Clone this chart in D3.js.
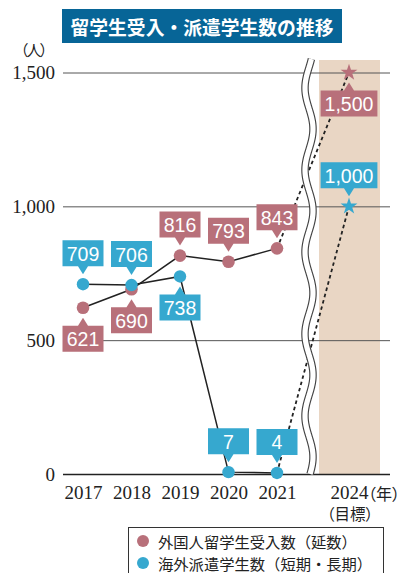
<!DOCTYPE html>
<html><head><meta charset="utf-8">
<script src="https://cdn.jsdelivr.net/npm/d3@7"></script>
<style>body{margin:0;background:#fff} svg{display:block}</style>
</head><body><svg id="c" width="407" height="573"></svg>
<script>
// ---- data ----
const years = [2017, 2018, 2019, 2020, 2021];
const targetYear = 2024;
const intlStudents = [621, 690, 816, 793, 843];   // 外国人留学生受入数（延数）
const intlTarget = 1500;
const abroadStudents = [709, 706, 738, 7, 4];     // 海外派遣学生数（短期・長期）
const abroadTarget = 1000;
const yTicks = [0, 500, 1000, 1500];
const titleText = "留学生受入・派遣学生数の推移";
const seriesNames = ["外国人留学生受入数（延数）", "海外派遣学生数（短期・長期）"];

// callout placement (layout)
const intlSide = ["below", "below", "above", "above", "above"];
const abroadSide = ["above", "above", "below", "above", "above"];

const PINK = "#b8707a", BLUE = "#36a8cf", BAND = "#e9d6c4";
const CJK = "'Noto Sans CJK JP', sans-serif";
const SERIF = "'Liberation Serif', 'DejaVu Serif', serif";
const SANS = "'Liberation Sans', Arial, sans-serif";

const svg = d3.select("#c");
const x = d3.scaleLinear().domain([2017, 2021, 2024]).range([83, 277, 349]);
const y = d3.scaleLinear().domain([0, 1500]).range([474, 72.5]);
const left = 63, right = 390;

// title
svg.append("rect").attr("x", 62).attr("y", 9).attr("width", 280).attr("height", 34).attr("fill", "#076597");
svg.append("text").attr("x", 202).attr("y", 26).attr("text-anchor", "middle").attr("dominant-baseline", "central")
  .attr("fill", "#fff").attr("font-family", CJK).attr("font-weight", "bold").attr("font-size", 18.8).text(titleText);

// unit
svg.append("text").attr("x", 33).attr("y", 49).attr("text-anchor", "middle").attr("dominant-baseline", "central")
  .attr("font-family", CJK).attr("font-size", 15).attr("letter-spacing", -2).attr("fill", "#222").text("（人）");

// target band
svg.append("rect").attr("x", x(targetYear) - 30).attr("y", 60).attr("width", 61).attr("height", y(0) - 60).attr("fill", BAND);

// y axis grid
const yAxis = svg.append("g").attr("transform", `translate(${left},0)`)
  .call(d3.axisLeft(y).tickValues(yTicks).tickSize(-(right - left)).tickPadding(8).tickFormat(d3.format(",")));
yAxis.select(".domain").remove();
yAxis.selectAll(".tick line").attr("stroke", d => d === 0 ? "#222" : "#555").attr("stroke-width", d => d === 0 ? 1.3 : 1);
yAxis.selectAll(".tick text").attr("font-family", SERIF).attr("font-size", 19).attr("fill", "#222").attr("dy", "0.33em");

// x axis labels
const xAxis = svg.append("g").attr("transform", `translate(0,${y(0)})`)
  .call(d3.axisBottom(x).tickValues(years.concat([targetYear])).tickSize(0).tickPadding(0).tickFormat(d3.format("d")));
xAxis.select(".domain").remove();
xAxis.selectAll(".tick text").attr("font-family", SERIF).attr("font-size", 19).attr("fill", "#222")
  .attr("y", 18.5).attr("dy", null).attr("dominant-baseline", "central");
svg.append("text").attr("x", x(targetYear) + 19).attr("y", 492.5).attr("dominant-baseline", "central")
  .attr("font-family", CJK).attr("font-size", 16).attr("fill", "#222").style("font-feature-settings", "'palt'").text("（年）");
svg.append("text").attr("x", x(targetYear) + 1).attr("y", 513).attr("text-anchor", "middle").attr("dominant-baseline", "central")
  .attr("font-family", CJK).attr("font-size", 15.5).attr("fill", "#222").style("font-feature-settings", "'palt'").text("（目標）");

// dashed projections
const dash = (v0, v1) => svg.append("line")
  .attr("x1", x(years[years.length - 1])).attr("y1", y(v0))
  .attr("x2", x(targetYear)).attr("y2", y(v1))
  .attr("stroke", "#222").attr("stroke-width", 1.8).attr("stroke-dasharray", "3.5,3");
dash(intlStudents[intlStudents.length - 1], intlTarget);
dash(abroadStudents[abroadStudents.length - 1], abroadTarget);

// axis break (wavy double line)
const breakX = 309;
const wave = d3.range(59, y(0) + 1, 1).map(yy => [breakX - 4 * Math.cos(2 * Math.PI * (yy - 88) / 82), yy]);
const waveLine = d3.line().curve(d3.curveBasis);
svg.append("path").attr("d", waveLine(wave)).attr("fill", "none").attr("stroke", "#444").attr("stroke-width", 7.5);
svg.append("path").attr("d", waveLine(wave)).attr("fill", "none").attr("stroke", "#fff").attr("stroke-width", 5.2);

// lines
const line = d3.line().x((d, i) => x(years[i])).y(d => y(d));
svg.append("path").attr("d", line(intlStudents)).attr("fill", "none").attr("stroke", "#222").attr("stroke-width", 1.5);
svg.append("path").attr("d", line(abroadStudents)).attr("fill", "none").attr("stroke", "#222").attr("stroke-width", 1.5);

// points
svg.selectAll(".pp").data(intlStudents).join("circle").attr("cx", (d, i) => x(years[i])).attr("cy", d => y(d)).attr("r", 6.3).attr("fill", PINK);
svg.selectAll(".bp").data(abroadStudents).join("circle").attr("cx", (d, i) => x(years[i])).attr("cy", d => y(d)).attr("r", 6.2).attr("fill", BLUE);

// target stars
const star = d3.symbol().type(d3.symbolStar).size(88);
svg.append("path").attr("d", star()).attr("transform", `translate(${x(targetYear)},${y(intlTarget)})`).attr("fill", PINK);
svg.append("path").attr("d", star()).attr("transform", `translate(${x(targetYear)},${y(abroadTarget)})`).attr("fill", BLUE);

// callouts
const fmt = d3.format(",");
function callout(cx, cy, value, color, side) {
  const g = svg.append("g");
  const path = g.append("path").attr("fill", color);
  const t = g.append("text").attr("x", cx).attr("text-anchor", "middle").attr("dominant-baseline", "central")
    .attr("font-family", SANS).attr("font-size", 19.5).attr("fill", "#fff").text(fmt(value));
  const tw = t.node().getComputedTextLength();
  const w = Math.max(41, tw + 8), h = 26, tip = 10, tri = 8, hw = 5;
  let top, bottom, d;
  if (side === "above") {
    bottom = cy - tip - tri; top = bottom - h;
    d = `M${cx - w / 2},${top}H${cx + w / 2}V${bottom}H${cx + hw}L${cx},${cy - tip}L${cx - hw},${bottom}H${cx - w / 2}Z`;
  } else {
    top = cy + tip + tri; bottom = top + h;
    d = `M${cx - w / 2},${top}H${cx - hw}L${cx},${cy + tip}L${cx + hw},${top}H${cx + w / 2}V${bottom}H${cx - w / 2}Z`;
  }
  path.attr("d", d);
  t.attr("y", (top + bottom) / 2 + 0.5);
}
intlStudents.forEach((v, i) => callout(x(years[i]), y(v), v, PINK, intlSide[i]));
abroadStudents.forEach((v, i) => callout(x(years[i]), y(v), v, BLUE, abroadSide[i]));
callout(x(targetYear), y(intlTarget), intlTarget, PINK, "below");
callout(x(targetYear), y(abroadTarget), abroadTarget, BLUE, "above");

// legend
svg.append("rect").attr("x", 128.5).attr("y", 527.5).attr("width", 255).attr("height", 60)
  .attr("fill", "#fff").attr("stroke", "#333").attr("stroke-width", 1);
[[PINK, seriesNames[0], 540.5], [BLUE, seriesNames[1], 562.5]].forEach(([c, name, yy]) => {
  svg.append("circle").attr("cx", 143).attr("cy", yy + 0.5).attr("r", 6).attr("fill", c);
  svg.append("text").attr("x", 158).attr("y", yy).attr("dominant-baseline", "central")
    .attr("font-family", CJK).attr("font-size", 15.3).attr("fill", "#222").text(name);
});
</script></body></html>
